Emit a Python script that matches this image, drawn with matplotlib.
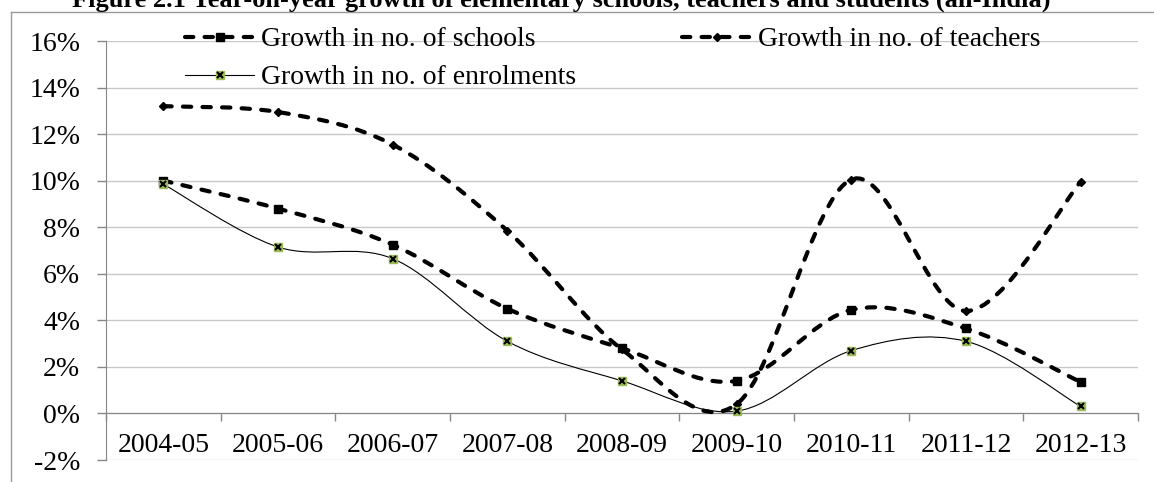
import matplotlib
matplotlib.use("Agg")
import matplotlib.pyplot as plt
from matplotlib.path import Path
from matplotlib.patches import PathPatch
from matplotlib.lines import Line2D
from matplotlib.legend_handler import HandlerTuple
import numpy as np

# data (values in %)
years = ["2004-05", "2005-06", "2006-07", "2007-08", "2008-09",
         "2009-10", "2010-11", "2011-12", "2012-13"]
schools = [10.0, 8.8, 7.25, 4.5, 2.8, 1.4, 4.45, 3.65, 1.35]
teachers = [13.2, 12.95, 11.55, 7.85, 2.75, 0.4, 10.05, 4.4, 9.95]
enrolments = [9.85, 7.15, 6.65, 3.1, 1.4, 0.1, 2.7, 3.1, 0.3]
yticks = [-2, 0, 2, 4, 6, 8, 10, 12, 14, 16]
ytick_labels = ["-2%", "0%", "2%", "4%", "6%", "8%", "10%", "12%", "14%", "16%"]

title = ("Figure 2.1 Year-on-year growth of elementary schools, "
         "teachers and students (all-India)")

FS = 20
plt.rcParams['font.family'] = ['Liberation Serif', 'DejaVu Serif']
plt.rcParams['font.size'] = FS
W, H = 1154, 482

fig = plt.figure(figsize=(W / 100, H / 100), dpi=100)
ax = fig.add_axes([106 / W, (H - 460) / H, (1138 - 106) / W, (460 - 41) / H])


def smooth_path(xs, ys):
    # excel style smoothed line: bezier segments through every point
    pts = np.column_stack([xs, ys]).astype(float)
    n = len(pts)
    verts = [pts[0]]
    codes = [Path.MOVETO]
    for i in range(n - 1):
        p0 = pts[max(i - 1, 0)]
        p1 = pts[i]
        p2 = pts[i + 1]
        p3 = pts[min(i + 2, n - 1)]
        c1 = p1 + (p2 - p0) / 6.0
        c2 = p2 - (p3 - p1) / 6.0
        verts += [c1, c2, p2]
        codes += [Path.CURVE4] * 3
    return Path(verts, codes)


x = np.arange(len(years)) + 0.5
grid_c = "#c8c8c8"
axis_c = "#868686"
green = "#9bbb59"
dash = (0, (2.0, 2.7))

for vals in (schools, teachers):
    patch = PathPatch(smooth_path(x, vals), fill=False, edgecolor="black",
                      lw=3.0, linestyle=dash, capstyle="round", zorder=3)
    ax.add_patch(patch)
ax.add_patch(PathPatch(smooth_path(x, enrolments), fill=False,
                       edgecolor="black", lw=0.8, zorder=3))

ax.plot(x, schools, ls="none", marker="s", ms=5.5, color="black", zorder=4)
ax.plot(x, teachers, ls="none", marker="D", ms=4.5, color="black", zorder=4)
ax.plot(x, enrolments, ls="none", marker="s", ms=5.5, mfc=green,
        mec=green, zorder=4)
ax.plot(x, enrolments, ls="none", marker="x", ms=5, mew=1.5,
        color="black", zorder=5)

ax.set_xlim(0, len(years))
ax.set_ylim(-2, 16)
ax.set_yticks(yticks)
ax.set_yticklabels(ytick_labels)
ax.set_xticks(x)
ax.set_xticklabels(years)
ax.set_xticks(np.arange(len(years) + 1), minor=True)
ax.tick_params(axis="x", which="major", length=0, pad=14, labelsize=FS)
ax.tick_params(axis="x", which="minor", length=6, color=axis_c, width=1)
ax.tick_params(axis="y", length=6.5, color=axis_c, width=1, pad=12,
               labelsize=FS)
ax.grid(axis="y", color=grid_c, lw=1)
ax.set_axisbelow(True)
for s in ("top", "right"):
    ax.spines[s].set_visible(False)
ax.spines["left"].set_color(axis_c)
ax.spines["bottom"].set_color(axis_c)
ax.spines["bottom"].set_position(("data", 0))

# legend
h_sch = Line2D([], [], color="black", lw=3.0, ls=dash, dash_capstyle="round",
               marker="s", ms=5.5)
h_tea = Line2D([], [], color="black", lw=3.0, ls=dash, dash_capstyle="round",
               marker="D", ms=4.5)
h_enr = (Line2D([], [], color="black", lw=0.8, marker="s", ms=5.5,
                mfc=green, mec=green),
         Line2D([], [], ls="none", marker="x", ms=5, mew=1.5, color="black"))
fig.legend([h_sch, h_enr, h_tea],
           ["Growth in no. of schools", "Growth in no. of enrolments",
            "Growth in no. of teachers"],
           ncol=2, frameon=False, fontsize=FS, loc="upper left",
           bbox_to_anchor=(185 / W, 1 - 27 / H), borderpad=0,
           borderaxespad=0, handlelength=2.5, handletextpad=0.25,
           columnspacing=3.8, labelspacing=0.45, numpoints=1,
           handler_map={tuple: HandlerTuple(ndivide=1)})

# title, cut at the top as in the source
fig.text(561 / W, 1 - 7 / H, title, ha="center", va="baseline",
         fontsize=19, fontweight="bold", family=["Liberation Serif"])

# chart border
fig.add_artist(Line2D([11 / W, 1], [1 - 12 / H] * 2, color="#9a9a9a",
                      lw=1, transform=fig.transFigure))
fig.add_artist(Line2D([11 / W] * 2, [0, 1 - 12 / H], color="#9a9a9a",
                      lw=1, transform=fig.transFigure))

fig.savefig("out.png", dpi=100)
